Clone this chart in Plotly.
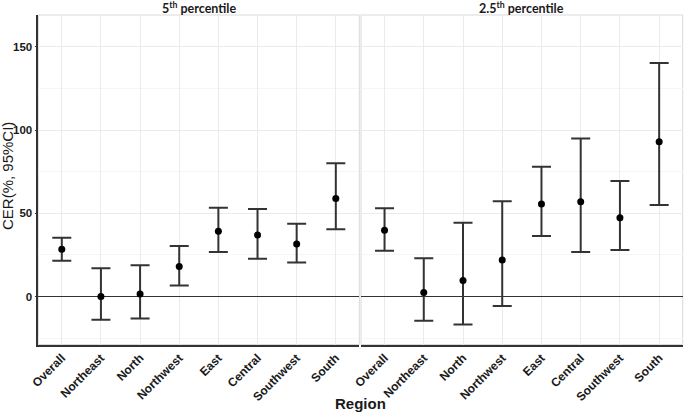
import plotly.graph_objects as go
from plotly.subplots import make_subplots

regions = ["Overall", "Northeast", "North", "Northwest", "East", "Central", "Southwest", "South"]

# 5th percentile panel
p5_est = [28.4, 0.0, 1.6, 18.0, 39.3, 37.0, 31.6, 59.0]
p5_low = [21.6, -14.0, -13.2, 6.6, 26.8, 22.8, 20.4, 40.4]
p5_high = [35.4, 17.0, 18.8, 30.4, 53.4, 52.6, 43.8, 80.1]

# 2.5th percentile panel
p25_est = [39.9, 2.4, 9.6, 22.0, 55.7, 57.0, 47.4, 93.0]
p25_low = [27.6, -14.6, -16.8, -5.6, 36.4, 26.8, 28.0, 55.0]
p25_high = [53.0, 23.0, 44.4, 57.3, 78.0, 95.0, 69.4, 140.4]

panel_titles = ["<b>5<sup>th</sup> percentile</b>", "<b>2.5<sup>th</sup> percentile</b>"]

W, H = 685, 413


def px(x):
    return x / W


def py(y):
    return 1 - y / H


fig = make_subplots(rows=1, cols=2, shared_yaxes=True)


def add_panel(est, low, high, col):
    fig.add_trace(go.Scatter(
        x=regions, y=est, mode="markers",
        marker=dict(color="black", size=7),
        error_y=dict(type="data", symmetric=False,
                     array=[h - e for h, e in zip(high, est)],
                     arrayminus=[e - l for e, l in zip(est, low)],
                     color="#333333", thickness=2, width=9.5),
        showlegend=False), row=1, col=col)


add_panel(p5_est, p5_low, p5_high, 1)
add_panel(p25_est, p25_low, p25_high, 2)

xtick_font = dict(family="Arial, Liberation Sans", size=12, color="#1a1a1a", weight="bold")
ytick_font = dict(family="Arial, Liberation Sans", size=11.5, color="#1a1a1a", weight="bold")

common_x = dict(type="category", range=[-0.6, 7.6], tickangle=-45, tickfont=xtick_font,
                showgrid=True, gridcolor="#EBEBEB", gridwidth=0.7,
                showline=True, linecolor="#333333", linewidth=1.5,
                ticks="", automargin=False)
fig.update_xaxes(domain=[px(38.3), px(359.3)], **common_x, row=1, col=1)
fig.update_xaxes(domain=[px(361), px(682.7)], **common_x, row=1, col=2)

common_y = dict(range=[-28.8, 169.2], domain=[py(344.5), py(15)], tickvals=[0, 50, 100, 150],
                showgrid=True, gridcolor="#EBEBEB", gridwidth=0.7,
                minor=dict(tickvals=[-25, 25, 75, 125], showgrid=True, gridcolor="#F5F5F5", gridwidth=0.6),
                zeroline=True, zerolinecolor="#333333", zerolinewidth=1.2, automargin=False)
fig.update_yaxes(**common_y, showline=True, linecolor="#333333", linewidth=1.5,
                 ticks="outside", ticklen=2, tickcolor="#333333", tickfont=ytick_font, row=1, col=1)
fig.update_yaxes(**common_y, showline=False, showticklabels=False, row=1, col=2)

# light grey panel borders
for xr, yr in [("x domain", "y domain"), ("x2 domain", "y2 domain")]:
    fig.add_shape(type="rect", xref=xr, yref=yr, x0=0, x1=1, y0=0, y1=1,
                  line=dict(color="#D9D9D9", width=1), layer="below")

for i, t in enumerate(panel_titles):
    fig.add_annotation(text=t, xref="x domain" if i == 0 else "x2 domain", x=0.5,
                       yref="paper", y=py(7.5), xanchor="center", yanchor="middle", showarrow=False,
                       font=dict(family="Lato", size=12.5, color="#1a1a1a"))

fig.add_annotation(text="CER(%, 95%CI)", textangle=-90, xref="paper", x=px(7),
                   yref="paper", y=py(176), xanchor="center", yanchor="middle", showarrow=False,
                   font=dict(family="Arial, Liberation Sans", size=15, color="#1a1a1a"))
fig.add_annotation(text="<b>Region</b>", xref="paper", x=px(360),
                   yref="paper", y=py(403), xanchor="center", yanchor="middle", showarrow=False,
                   font=dict(family="Arial, Liberation Sans", size=15, color="#1a1a1a"))

fig.update_layout(width=W, height=H, margin=dict(l=0, r=0, t=0, b=0),
                  plot_bgcolor="white", paper_bgcolor="white")

fig.write_html("out.html", config={"displayModeBar": False},
               post_script="document.body.style.margin='0';")
